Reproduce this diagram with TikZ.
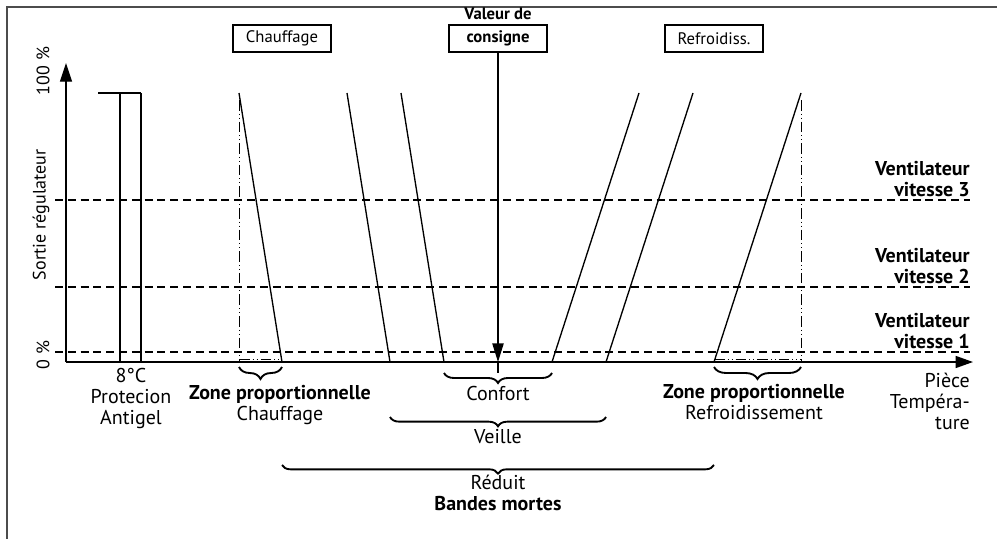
\documentclass[tikz,border=0pt]{standalone}
\usepackage{fontspec}
\setmainfont{PT Sans}
\usetikzlibrary{arrows.meta,decorations.pathreplacing}
\tikzset{
  axisline/.style={line width=1pt,black},
  ramp/.style={line width=1pt,black},
  level/.style={line width=1pt,dash pattern=on 6pt off 3.6pt},
  helper/.style={line width=0.6pt,dash pattern=on 8pt off 2.2pt on 0.8pt off 2.2pt on 0.8pt off 2.2pt},
  boxlbl/.style={draw,line width=1.4pt,minimum width=73.5pt,minimum height=20pt,inner sep=0pt,font=\fontsize{12.5}{14}\selectfont},
  lbl/.style={font=\fontsize{15}{15.75}\selectfont,inner sep=0pt},
  ylbl/.style={font=\fontsize{13.5}{15}\selectfont,inner sep=0pt,rotate=90},
  blbl/.style={font=\fontsize{15}{15.75}\selectfont\bfseries,inner sep=0pt},
  ubrace/.style={decorate,decoration={brace,mirror,amplitude=#1},line width=1.4pt},
  ubrace/.default=8pt
}
\begin{document}
\begin{tikzpicture}[x=0.75pt,y=-0.75pt]
\useasboundingbox (0,0) rectangle (997,539);
% frame
\draw[line width=1pt,black!70] (7,539) -- (7,7) -- (997,7);

% axes
\coordinate (O) at (66,362);
\coordinate (Ytip) at (66,63);
\coordinate (Xtip) at (973,362);
\draw[axisline,-{Triangle[length=14pt,width=9pt]}] (O) -- (Ytip);
\draw[axisline,-{Triangle[length=13pt,width=9pt]}] (O) -- (Xtip);

% level lines
\foreach \yy/\nm in {200/L3,287/L2,352/L1}{
  \coordinate (\nm a) at (55,\yy);
  \coordinate (\nm b) at (970,\yy);
  \draw[level] (\nm a) -- (\nm b);
}

% y labels
\node[ylbl] (p100) at (43,71) {100 \%};
\node[ylbl] (sortie) at (41,215) {Sortie régulateur};
\node[ylbl] (p0) at (43,355) {0 \%};

% fan labels
\node[blbl,align=right,anchor=south east] (v3) at (970,197) {Ventilateur\\vitesse 3};
\node[blbl,align=right,anchor=south east] (v2) at (970,284) {Ventilateur\\vitesse 2};
\node[blbl,align=right,anchor=south east] (v1) at (970,349) {Ventilateur\\vitesse 1};

% antigel
\coordinate (ag0) at (98,93);
\coordinate (ag1) at (120,93);
\coordinate (ag2) at (141,93);
\coordinate (ag1b) at (120,362);
\coordinate (ag2b) at (141,362);
\draw[ramp] (ag0) -- (ag2);
\draw[ramp] (ag1) -- (ag1b);
\draw[ramp] (ag2) -- (ag2b);
\node[lbl,align=center,anchor=north] (antigel) at (131,368) {8°C\\Protecion\\Antigel};

% ramps
\coordinate (h1t) at (239,93);  \coordinate (h1b) at (282,362);
\coordinate (h2t) at (347,93);  \coordinate (h2b) at (390,362);
\coordinate (h3t) at (401,93);  \coordinate (h3b) at (444,362);
\coordinate (c1t) at (639,93);  \coordinate (c1b) at (552,362);
\coordinate (c2t) at (693,93);  \coordinate (c2b) at (606,362);
\coordinate (c3t) at (801,93);  \coordinate (c3b) at (714,362);
\foreach \r in {h1,h2,h3,c1,c2,c3}{\draw[ramp] (\r t) -- (\r b);}

% helper dash-dot lines
\coordinate (hv1) at (239,100); \coordinate (hv2) at (239,362);
\coordinate (hh1) at (239,359); \coordinate (hh2) at (282,359);
\coordinate (cv1) at (801,100); \coordinate (cv2) at (801,362);
\coordinate (ch1) at (714,359); \coordinate (ch2) at (801,359);
\draw[helper] (hv1) -- (hv2);
\draw[helper] (hh1) -- (hh2);
\draw[helper] (cv1) -- (cv2);
\draw[helper] (ch1) -- (ch2);

% top boxes
\node[boxlbl] (chauf) at (282,38.5) {Chauffage};
\node[boxlbl,font=\fontsize{12.5}{14}\selectfont\bfseries] (cons) at (498,38.5) {consigne};
\node[font=\fontsize{12.5}{14}\selectfont\bfseries,inner sep=0pt] (valeur) at (498,14) {Valeur de};
\node[boxlbl] (refr) at (714,38.5) {Refroidiss.};

% setpoint arrow
\coordinate (sptip) at (498,362);
\coordinate (spend) at (498,373);
\draw[ramp,-{Triangle[length=14pt,width=8.5pt]}] (cons.south) -- (sptip);
\draw[ramp] (sptip) -- (spend);

% braces
\coordinate (bh1) at (239,367); \coordinate (bh2) at (282,367);
\coordinate (bc1) at (714,367); \coordinate (bc2) at (801,367);
\coordinate (bf1) at (444,373); \coordinate (bf2) at (552,373);
\coordinate (bv1) at (390,417); \coordinate (bv2) at (606,417);
\coordinate (br1) at (282,465); \coordinate (br2) at (714,465);
\draw[ubrace=9pt] (bh1) -- (bh2);
\draw[ubrace=9pt] (bc1) -- (bc2);
\draw[ubrace=7.5pt] (bf1) -- (bf2);
\draw[ubrace=7pt] (bv1) -- (bv2);
\draw[ubrace=6.5pt] (br1) -- (br2);

% brace labels
\node[lbl,align=center,anchor=north] (zph) at (280,385) {\textbf{Zone proportionnelle}\\Chauffage};
\node[lbl,align=center,anchor=north] (zpc) at (754,384) {\textbf{Zone proportionnelle}\\Refroidissement};
\node[lbl] (confort) at (498,393) {Confort};
\node[lbl] (veille) at (498,437) {Veille};
\node[lbl,align=center,anchor=north] (reduit) at (498,475) {Réduit\\\textbf{Bandes mortes}};

% x axis label
\node[lbl,align=right,anchor=north east] (piece) at (970,373) {Pièce\\Tempéra-\\ture};
\end{tikzpicture}
\end{document}
